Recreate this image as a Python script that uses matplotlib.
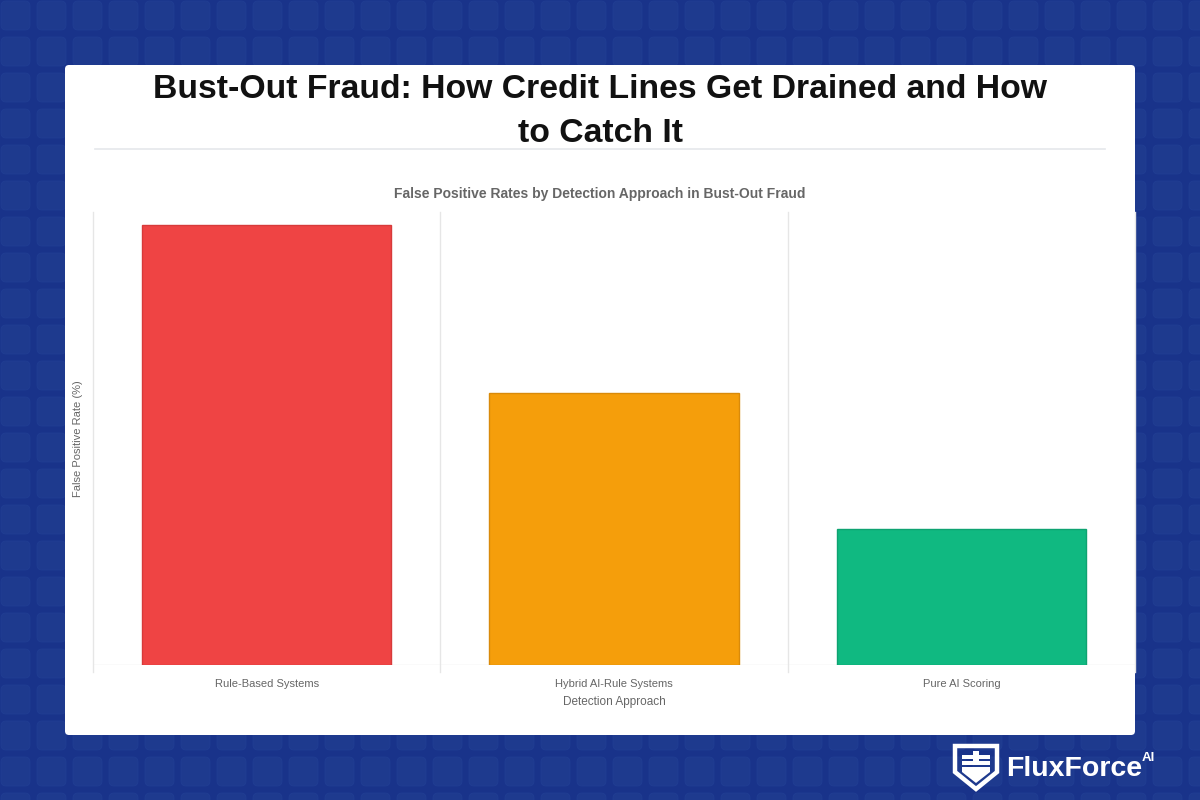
import numpy as np
import matplotlib.pyplot as plt
from matplotlib.patches import FancyBboxPatch, Polygon, Rectangle

plt.rcParams['font.family'] = ['Liberation Sans', 'DejaVu Sans']

# data
categories = ['Rule-Based Systems', 'Hybrid AI-Rule Systems', 'Pure AI Scoring']
false_positive = [68, 42, 21]
bar_colors = ['#ef4444', '#f59e0b', '#10b981']
edge_colors = ['#d73a3a', '#d98a0a', '#0ea371']

W, H = 1200, 800
fig = plt.figure(figsize=(12, 8), dpi=100)
fig.patch.set_facecolor('#19338a')

# background tile pattern
bg = fig.add_axes([0, 0, 1, 1])
bg.set_xlim(0, W)
bg.set_ylim(H, 0)
bg.axis('off')
pitch = 36
for gx in np.arange(-2, W, pitch):
    for gy in np.arange(-2, H, pitch):
        bg.add_patch(FancyBboxPatch((gx + 3, gy + 3), pitch - 7, pitch - 7,
                                    boxstyle='round,pad=0,rounding_size=5',
                                    fc='#1e3a8e', ec='#213f94', lw=0.5))

# white card
bg.add_patch(FancyBboxPatch((65, 65), 1070, 670, boxstyle='round,pad=0,rounding_size=4',
                            fc='white', ec='none', zorder=2))
bg.plot([95, 1105], [149, 149], color='#e5e7eb', lw=1.2, zorder=3)

fig.text(0.5, 1 - 90 / H, 'Bust-Out Fraud: How Credit Lines Get Drained and How',
         ha='center', va='center', fontsize=24.3, fontweight='bold', color='#111111')
fig.text(0.5, 1 - 134 / H, 'to Catch It',
         ha='center', va='center', fontsize=24.3, fontweight='bold', color='#111111')
fig.text(0.5, 1 - 194 / H, 'False Positive Rates by Detection Approach in Bust-Out Fraud',
         ha='center', va='center', fontsize=10, fontweight='bold', color='#666666')

# chart
ax = fig.add_axes([93 / W, 1 - 665 / H, (1135 - 93) / W, (665 - 212) / H])
ax.set_facecolor('white')
x = np.arange(len(categories))
ax.bar(x, false_positive, width=0.717, color=bar_colors, edgecolor=edge_colors, linewidth=1, zorder=3)
ax.set_xlim(-0.5, len(categories) - 0.5)
ax.set_ylim(0, 70)
ax.set_yticks([])
ax.set_xticks(x)
ax.set_xticklabels(categories, fontsize=8, color='#666666')
ax.tick_params(axis='x', length=0, pad=10)
for b in np.arange(-0.5, len(categories), 1):
    ax.plot([b, b], [-1.1, 70], color='#e6e6e6', lw=1, clip_on=False, zorder=1)
ax.plot([-0.5, len(categories) - 0.5], [0, 0], color='#e6e6e6', lw=1, zorder=1)
for s in ax.spines.values():
    s.set_visible(False)
ax.set_xlabel('Detection Approach', fontsize=8.5, color='#666666', labelpad=5)
ax.set_ylabel('False Positive Rate (%)', fontsize=8, color='#666666', labelpad=7)

# logo
lg = fig.add_axes([0, 0, 1, 1], facecolor='none')
lg.set_xlim(0, W)
lg.set_ylim(H, 0)
lg.axis('off')
shield = [(955, 746), (997, 746), (997, 772), (976, 789), (955, 772)]
lg.add_patch(Polygon(shield, closed=True, fc='none', ec='white', lw=3.2, joinstyle='miter'))
lg.add_patch(Polygon([(962, 767), (990, 767), (990, 772), (976, 783), (962, 772)],
                     closed=True, fc='white', ec='none'))
lg.add_patch(Rectangle((973, 751), 6, 14, fc='white', ec='none'))
lg.add_patch(Rectangle((962, 755), 28, 3.5, fc='white', ec='none'))
lg.add_patch(Rectangle((962, 761), 28, 3.5, fc='white', ec='none'))
lg.text(1006, 769, 'FluxForce', ha='left', va='center', fontsize=20.5, fontweight='bold', color='white')
lg.text(1142, 758, 'AI', ha='left', va='center', fontsize=9.5, fontweight='bold', color='white')

fig.savefig('out.png', dpi=100, facecolor=fig.get_facecolor())
